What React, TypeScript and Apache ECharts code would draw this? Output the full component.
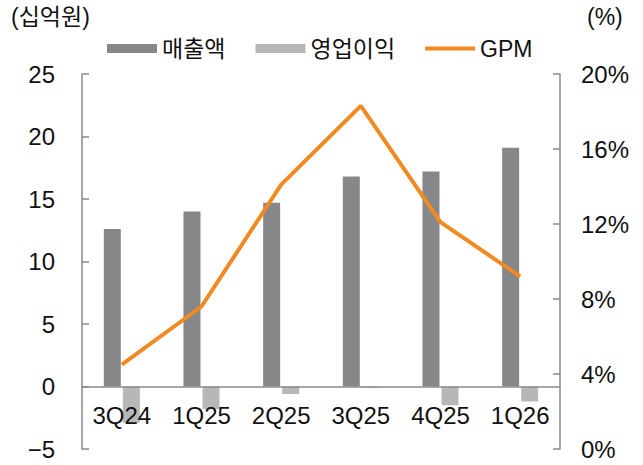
import React, { useEffect, useRef } from "react";
import * as echarts from "echarts";

const categories = ["3Q24", "1Q25", "2Q25", "3Q25", "4Q25", "1Q26"];
const revenue = [12.6, 14.0, 14.7, 16.8, 17.2, 19.1];
const opIncome = [-2.9, -1.8, -0.6, -0.1, -1.5, -1.2];
const gpm = [4.5, 7.6, 14.1, 18.3, 12.1, 9.2];

const FONT = "'Liberation Sans', 'Noto Sans CJK KR', sans-serif";

export default function App() {
  const ref = useRef<HTMLDivElement>(null);
  useEffect(() => {
    if (!ref.current) return;
    const chart = echarts.init(ref.current, undefined, { renderer: "svg" });
    chart.setOption({
      animation: false,
      backgroundColor: "#ffffff",
      textStyle: { fontFamily: FONT },
      grid: { left: 82, right: 83, top: 74, bottom: 16, containLabel: false },
      legend: {
        top: 37,
        left: 107,
        padding: 0,
        itemWidth: 50,
        itemHeight: 9,
        itemGap: 30,
        textStyle: { fontSize: 23, color: "#111", fontFamily: FONT },
        data: [
          { name: "매출액", icon: "rect" },
          { name: "영업이익", icon: "rect" },
          { name: "GPM", icon: "path://M0,0H50V4H0Z" },
        ],
      },
      graphic: [
        {
          type: "text",
          left: 11,
          top: 5,
          style: { text: "(십억원)", fontSize: 23, fill: "#111", fontFamily: FONT },
        },
        {
          type: "text",
          left: 587,
          top: 5,
          style: { text: "(%)", fontSize: 23, fill: "#111", fontFamily: FONT },
        },
      ],
      xAxis: {
        type: "category",
        data: categories,
        axisLine: { onZero: true, lineStyle: { color: "#8a8a8a", width: 1.5 } },
        axisTick: { inside: true, length: 6, lineStyle: { color: "#8a8a8a", width: 1.5 } },
        axisLabel: { fontSize: 24, color: "#111", margin: -46, fontFamily: FONT },
        z: 10,
      },
      yAxis: [
        {
          type: "value",
          min: -5,
          max: 25,
          interval: 5,
          splitLine: { show: false },
          axisLine: { show: true, lineStyle: { color: "#8a8a8a", width: 1.5 } },
          axisTick: { show: true, inside: true, length: 7, lineStyle: { color: "#8a8a8a", width: 1.5 } },
          axisLabel: {
            fontSize: 24,
            color: "#111",
            margin: 27,
            fontFamily: FONT,
            formatter: (v: number) => (v < 0 ? "\u2212" + Math.abs(v) : String(v)),
          },
        },
        {
          type: "value",
          min: 0,
          max: 20,
          interval: 4,
          position: "right",
          splitLine: { show: false },
          axisLine: { show: true, lineStyle: { color: "#8a8a8a", width: 1.5 } },
          axisTick: { show: true, inside: true, length: 7, lineStyle: { color: "#8a8a8a", width: 1.5 } },
          axisLabel: { fontSize: 24, color: "#111", margin: 21, fontFamily: FONT, formatter: "{value}%" },
        },
      ],
      series: [
        {
          name: "매출액",
          type: "bar",
          data: revenue,
          barWidth: 17,
          barGap: "12%",
          itemStyle: { color: "#858789" },
        },
        {
          name: "영업이익",
          type: "bar",
          data: opIncome,
          barWidth: 17,
          barGap: "12%",
          itemStyle: { color: "#b7b7b7" },
        },
        {
          name: "GPM",
          type: "line",
          yAxisIndex: 1,
          data: gpm,
          symbol: "none",
          lineStyle: { color: "#f28a24", width: 4 },
          itemStyle: { color: "#f28a24" },
          z: 5,
        },
      ],
    });
    return () => chart.dispose();
  }, []);
  return (
    <div
      ref={ref}
      style={{ position: "absolute", left: 0, top: 0, width: 643, height: 465 }}
    />
  );
}
